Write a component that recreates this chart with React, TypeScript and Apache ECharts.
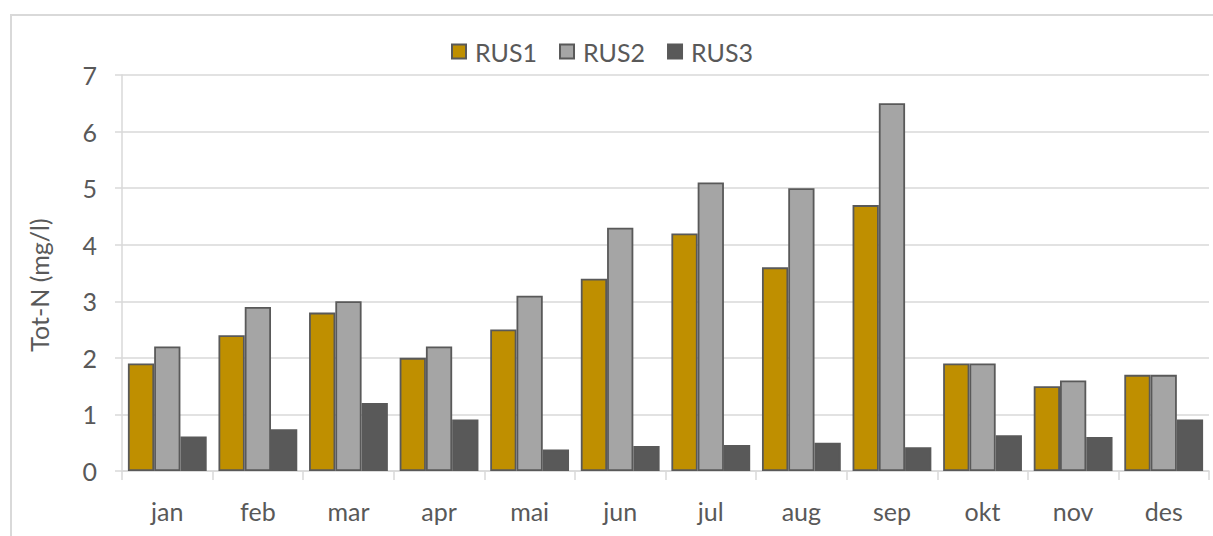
import React, { useEffect, useRef } from "react";
import * as echarts from "echarts";

const months = ["jan", "feb", "mar", "apr", "mai", "jun", "jul", "aug", "sep", "okt", "nov", "des"];
const rus1 = [1.9, 2.4, 2.8, 2.0, 2.5, 3.4, 4.2, 3.6, 4.7, 1.9, 1.5, 1.7];
const rus2 = [2.2, 2.9, 3.0, 2.2, 3.1, 4.3, 5.1, 5.0, 6.5, 1.9, 1.6, 1.7];
const rus3 = [0.61, 0.74, 1.2, 0.91, 0.38, 0.44, 0.46, 0.5, 0.42, 0.63, 0.6, 0.91];
const seriesNames = ["RUS1", "RUS2", "RUS3"];
const seriesColors = ["#bf8f00", "#a5a5a5", "#595959"];
const yTicks = { min: 0, max: 7, interval: 1 };

export default function App() {
  const ref = useRef<HTMLDivElement>(null);
  useEffect(() => {
    if (!ref.current) return;
    const chart = echarts.init(ref.current, null, { renderer: "svg" });
    const font = "Lato, 'Open Sans', sans-serif";
    const data = [rus1, rus2, rus3];
    chart.setOption({
      animation: false,
      textStyle: { fontFamily: font },
      graphic: [
        {
          type: "polyline",
          shape: { points: [[11, 540], [11, 15], [1220, 15]] },
          style: { fill: "none", stroke: "#d9d9d9", lineWidth: 2 },
          silent: true,
        },
      ],
      legend: {
        top: 34,
        left: 446,
        icon: "rect",
        itemWidth: 14,
        itemHeight: 14,
        itemGap: 22,
        textStyle: { fontSize: 25, color: "#595959", fontFamily: font, padding: [0, 0, 0, 4] },
        data: seriesNames,
      },
      grid: { left: 122, right: 4, top: 75, bottom: 65, containLabel: false },
      xAxis: {
        type: "category",
        data: months,
        axisLine: { lineStyle: { color: "#d9d9d9", width: 1.5 } },
        axisTick: { show: true, length: 9, lineStyle: { color: "#d9d9d9", width: 1.5 } },
        axisLabel: { fontSize: 25, color: "#595959", margin: 27, fontFamily: font },
      },
      yAxis: {
        type: "value",
        min: yTicks.min,
        max: yTicks.max,
        interval: yTicks.interval,
        name: "Tot-N (mg/l)",
        nameLocation: "middle",
        nameGap: 71,
        nameTextStyle: { fontSize: 25, color: "#595959", fontFamily: font, padding: [0, 24, 0, 0] },
        axisLine: { show: true, lineStyle: { color: "#d9d9d9", width: 1.5 } },
        axisTick: { show: true, length: 7, lineStyle: { color: "#d9d9d9", width: 1.5 } },
        axisLabel: { fontSize: 25, color: "#595959", margin: 25, fontFamily: font },
        splitLine: { lineStyle: { color: "#d9d9d9", width: 1.5 } },
      },
      series: seriesNames.map((name, i) => ({
        name,
        type: "bar",
        data: data[i],
        barGap: "0%",
        barCategoryGap: "13%",
        itemStyle: {
          color: seriesColors[i],
          borderColor: "#595959",
          borderWidth: 1.8,
        },
      })),
    });
    return () => chart.dispose();
  }, []);
  return (
    <div
      ref={ref}
      style={{ position: "absolute", left: 0, top: 0, width: 1213, height: 536, background: "#fff" }}
    />
  );
}
